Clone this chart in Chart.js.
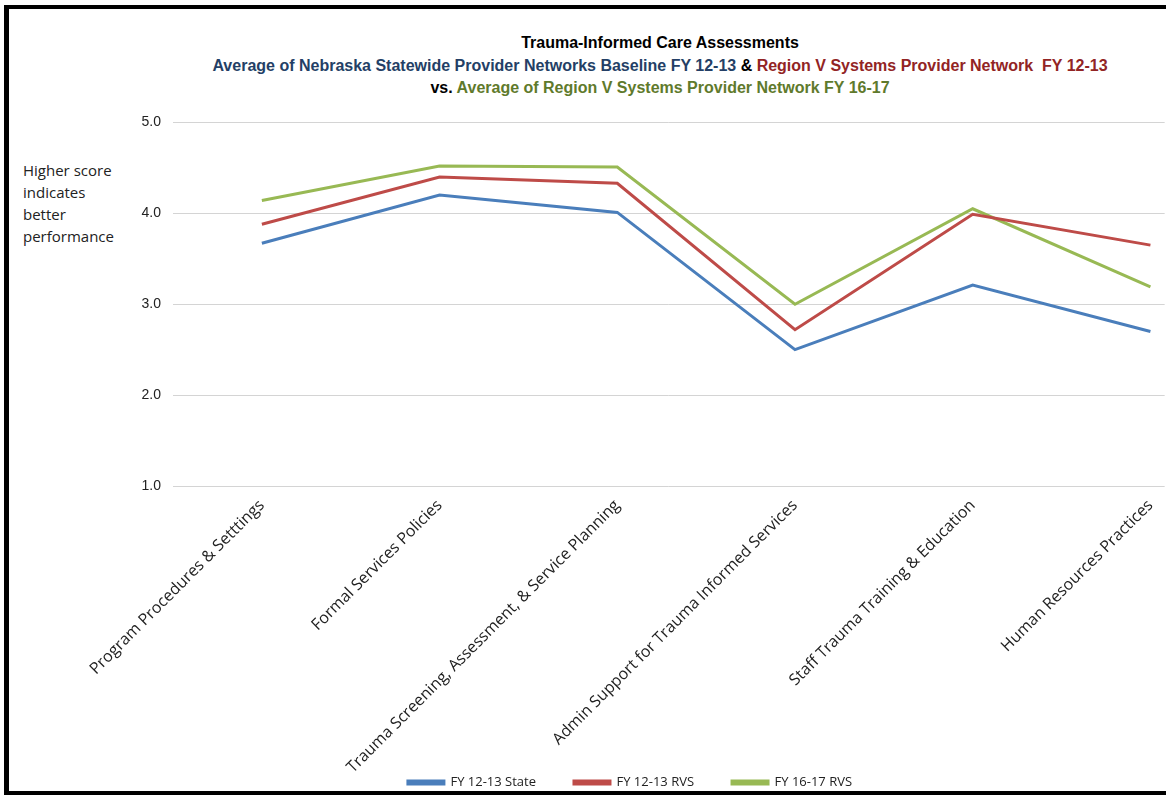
<html><head><meta charset="UTF-8"><title>Trauma-Informed Care Assessments</title><style>
body {
    margin: 0;
    background-color: white;
    font-family: "Liberation Sans", Arial, sans-serif;
    overflow: hidden;
}
.frame {
    position: absolute;
    left: 4px;
    top: 5px;
    width: 1162px;
    height: 790px;
    border-top: 4px solid #000;
    border-left: 5px solid #000;
    border-bottom: 4px solid #000;
    box-sizing: border-box;
}
.titulo {
    position: absolute;
    left: 150px;
    width: 1020px;
    text-align: center;
    font-weight: bold;
    font-size: 16px;
    color: #000;
}
.azul { color: #243f66; }
.rojo { color: #922424; }
.verde { color: #5f7a2c; }
.nota {
    position: absolute;
    left: 23px;
    top: 159px;
    font-family: "Open Sans", sans-serif;
    font-size: 15px;
    line-height: 22px;
    color: #222;
}
.chart-container {
    position: absolute;
    left: 10px;
    top: 102px;
    width: 1156px;
    height: 697px;
}
</style>
<script src="https://cdn.jsdelivr.net/npm/chart.js"></script>
</head>
<body>
<div class="frame"></div>
<div class="titulo" style="top:34px">Trauma-Informed Care Assessments</div>
<div class="titulo" style="top:57px"><span class="azul">Average of Nebraska Statewide Provider Networks Baseline FY 12-13</span> &amp; <span class="rojo">Region V Systems Provider Network&nbsp; FY 12-13</span></div>
<div class="titulo" style="top:79px">vs. <span class="verde">Average of Region V Systems Provider Network FY 16-17</span></div>
<div class="nota">Higher score<br>indicates<br>better<br>performance</div>

<div class="chart-container">
    <canvas id="grafico"></canvas>
</div>

<script>
const categorias = [
    'Program Procedures & Setttings',
    'Formal Services Policies',
    'Trauma Screening, Assessment, & Service Planning',
    'Admin Support for Trauma Informed Services',
    'Staff Trauma Training & Education',
    'Human Resources Practices'
];
const estado1213 = [3.67, 4.20, 4.01, 2.50, 3.21, 2.70];
const rvs1213 = [3.88, 4.40, 4.33, 2.72, 3.99, 3.65];
const rvs1617 = [4.14, 4.52, 4.51, 3.00, 4.05, 3.19];
const ticksY = [1.0, 2.0, 3.0, 4.0, 5.0];

function puntos(valores) {
    return valores.map((v, i) => ({ x: i, y: v }));
}

const fuente = '"Liberation Sans", Arial, sans-serif';

// las etiquetas largas bajan hasta la fila de la leyenda, como en el original
const sinRecorte = {
    id: 'sinRecorte',
    beforeDraw(chart) {
        chart.scales.x._computeLabelArea = () => undefined;
    }
};

const ctx = document.getElementById('grafico').getContext('2d');
new Chart(ctx, {
    type: 'line',
    data: {
        datasets: [
            {
                label: 'FY 12-13 State',
                data: puntos(estado1213),
                borderColor: '#4a7ebb',
                backgroundColor: '#4a7ebb',
                borderWidth: 3,
                pointRadius: 0,
                tension: 0
            },
            {
                label: 'FY 12-13 RVS',
                data: puntos(rvs1213),
                borderColor: '#be4b48',
                backgroundColor: '#be4b48',
                borderWidth: 3,
                pointRadius: 0,
                tension: 0
            },
            {
                label: 'FY 16-17 RVS',
                data: puntos(rvs1617),
                borderColor: '#98b954',
                backgroundColor: '#98b954',
                borderWidth: 3,
                pointRadius: 0,
                tension: 0
            }
        ]
    },
    plugins: [sinRecorte],
    options: {
        responsive: true,
        maintainAspectRatio: false,
        animation: false,
        layout: { padding: { top: 4, right: 0, left: 84, bottom: 0 } },
        plugins: {
            tooltip: { enabled: false },
            legend: {
                position: 'bottom',
                labels: {
                    boxWidth: 36,
                    boxHeight: 3,
                    padding: 38,
                    color: '#222',
                    font: { family: '"Open Sans", sans-serif', size: 13 }
                }
            }
        },
        scales: {
            x: {
                type: 'linear',
                min: -0.5,
                max: 5.08,
                grid: { display: false },
                border: { display: false },
                afterBuildTicks: axis => { axis.ticks = categorias.map((c, i) => ({ value: i })); },
                afterFit: scale => {
                    // deja el eje 1.0 a la altura de la imagen original
                    const leyenda = scale.chart.legend ? scale.chart.legend.height : 0;
                    scale.height = scale.chart.height - leyenda - 384;
                },
                ticks: {
                    autoSkip: false,
                    maxRotation: 45,
                    minRotation: 45,
                    padding: 2,
                    color: '#222',
                    font: { family: '"Open Sans", sans-serif', size: 16 },
                    callback: value => categorias[value]
                }
            },
            y: {
                min: 1,
                max: 5,
                afterBuildTicks: axis => { axis.ticks = ticksY.map(v => ({ value: v })); },
                afterFit: scale => { scale.width = 79; },
                grid: { color: '#d4d4d4', lineWidth: 1, drawTicks: false },
                border: { display: false },
                ticks: {
                    padding: 12,
                    color: '#222',
                    font: { family: fuente, size: 14 },
                    callback: value => value.toFixed(1)
                }
            }
        }
    }
});
</script>
</body></html>
